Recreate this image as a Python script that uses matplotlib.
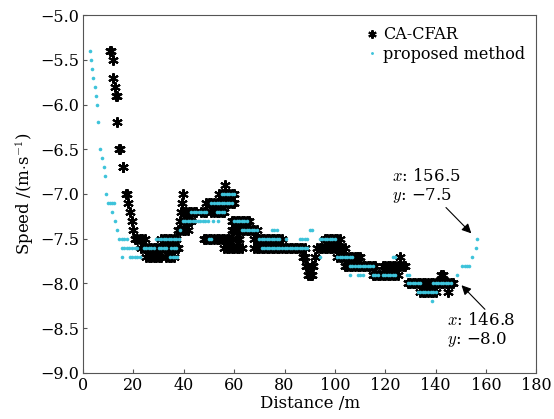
import numpy as np
from matplotlib import pyplot as plt

plt.rcParams['font.family'] = 'DejaVu Serif'
plt.rcParams['mathtext.fontset'] = 'cm'

# CA-CFAR detections, grouped by speed level (distance list per speed)
cfar_dist = [
    10.7, 11.0, 11.8, 12.0, 12.6, 13.1, 13.4, 13.6, 14.2, 14.5, 15.7, 16.0, 17.1, 17.5, 18.0, 18.7, 19.3, 20.0,
    20.5, 21.5, 22.5, 23.5, 24.5,                                               # -7.5
    23, 24, 25, 26, 27, 28, 29, 30, 31, 32, 33, 34, 35, 36, 37, 37.5,           # -7.6
    25, 26, 27, 28, 29, 30, 31, 33, 34, 35, 36,                                 # -7.7
    31, 32, 33, 34, 35, 36, 37,                                                 # -7.5
    37.5, 38.5, 39.5, 40.5, 41.5,                                               # -7.4
    38.5, 40, 41, 42, 43,                                                       # -7.3
    39.0, 40, 41, 42, 43, 44, 45, 47, 48, 49, 51, 52, 53, 54, 55, 56,           # -7.2
    39.3, 49, 50, 51, 52, 53, 54, 55, 56, 57, 58, 59, 60,                       # -7.1
    39.5, 54, 55, 56, 57, 58, 59, 60,                                           # -7.0
    56.3,                                                                       # -6.9
    48, 49, 50, 51, 52, 53, 54, 55, 56, 57, 58, 59, 61, 62,                     # -7.5
    56, 57, 58, 59, 60, 61, 62, 63,                                             # -7.6
    59, 60, 61, 62, 63, 64, 65, 66,                                             # -7.3
    59, 60, 61, 62, 63, 64, 65, 66, 67, 68, 69,                                 # -7.4
    68, 69, 70, 71, 72, 73, 74, 75, 76, 77, 78, 79,                             # -7.5
    68, 69, 70, 71, 72, 73, 74, 75, 76, 77, 78, 79, 80, 81, 82, 83, 84, 85, 86, 87, 88,  # -7.6
    87.5, 88, 92,                                                               # -7.7
    88.5, 89, 91, 91.5,                                                         # -7.8
    89.5, 90, 90.5, 91,                                                         # -7.9
    93, 94, 95, 96, 97, 98, 99, 100, 101, 102, 103, 104,                        # -7.6
    96, 97, 98, 99, 100, 101, 102,                                              # -7.5
    101, 102, 103, 104, 105, 106, 107, 108, 108.6, 109, 110,                    # -7.7
    104, 105, 106, 107, 108, 109, 110, 111, 112, 113, 114, 115, 116,            # -7.8
    115, 116, 117, 118, 119, 120, 121, 122, 123, 124, 125,                      # -7.9
    119, 120, 121, 122, 123, 124, 125, 126, 127, 128,                           # -7.8
    125.7,                                                                      # -7.7
    129, 130, 131, 132, 133, 134, 135, 136, 137, 138, 139, 140, 141, 142, 143, 144, 145, 146, 146.8,  # -8.0
    134, 135, 136, 137, 138, 139, 140, 145,                                     # -8.1
    142, 143,                                                                   # -7.9
]
cfar_speed = (
    [-5.4, -5.4, -5.5, -5.7, -5.8, -5.9, -5.9, -6.2, -6.5, -6.5, -6.7, -6.7, -7.0, -7.0, -7.1, -7.2, -7.3, -7.4]
    + [-7.5] * 5 + [-7.6] * 16 + [-7.7] * 11 + [-7.5] * 7 + [-7.4] * 5 + [-7.3] * 5
    + [-7.2] * 16 + [-7.1] * 13 + [-7.0] * 8 + [-6.9] * 1 + [-7.5] * 14 + [-7.6] * 8
    + [-7.3] * 8 + [-7.4] * 11 + [-7.5] * 12 + [-7.6] * 21 + [-7.7] * 3 + [-7.8] * 4
    + [-7.9] * 4 + [-7.6] * 12 + [-7.5] * 7 + [-7.7] * 11 + [-7.8] * 13 + [-7.9] * 11
    + [-7.8] * 10 + [-7.7] * 1 + [-8.0] * 19 + [-8.1] * 8 + [-7.9] * 2
)

# proposed method
prop_dist = [
    2.8, 3.2, 3.6, 4.1, 4.6, 5.0, 5.6, 6.1, 6.7, 7.7, 8.2, 8.7, 9.1,
    9.9, 10.7, 11.5, 12.3,                                                      # -7.1
    11.4, 12.7, 13.4,                                                           # -7.2 -7.3 -7.4
    14.3, 15.3, 16.3, 17.3,                                                     # -7.5
    15.4, 16.4, 17.4, 18.4, 19.4, 20.5, 21.5,                                   # -7.6
    15.4, 18.6, 19.6, 20.6, 21.6, 22.6,                                         # -7.7
    24, 25, 26, 27, 28, 30, 31, 32, 33, 35, 36, 37,                             # -7.6
    29, 30, 31, 32, 33, 34, 35, 36, 37, 38,                                     # -7.5
    34.6, 35.6, 36.6, 37.2,                                                     # -7.7
    38.5,                                                                       # -7.4
    39.5, 40.5, 41.5, 42.5, 43.5, 44.5, 45.5, 46.5, 47.5, 48.5, 49.5, 51.7, 53.7,  # -7.3
    43, 44, 45, 46, 47, 48, 49, 53, 54, 55, 56,                                 # -7.2
    51, 52, 53, 54, 55, 56, 57, 58, 59,                                         # -7.1
    55, 56, 57, 58, 59, 60,                                                     # -7.0
    60, 61, 62, 63, 64, 65,                                                     # -7.3
    63, 64, 65, 66, 67, 68, 69, 75, 76, 77, 90, 91,                             # -7.4
    50, 51, 70, 71, 72, 73, 74, 75, 76, 77, 78, 80.5, 86, 87, 88, 89,
    94, 95, 96, 97, 98, 99, 100,                                                # -7.5
    71, 72, 73, 74, 75, 76, 77, 78, 79, 80, 81, 82, 83, 84, 85, 86, 87, 88, 89,  # -7.6
    94, 101, 102, 103, 104, 105, 106, 107, 123, 124,                            # -7.7
    106, 107, 108, 109, 110, 111, 112, 113, 114, 115,                           # -7.8
    106, 109, 110, 111, 115, 116, 117, 119, 120, 121, 122, 123, 124, 128.5, 129.5,  # -7.9
    129, 130, 131, 132, 133, 134, 139, 140, 141, 142, 143, 144, 145, 146,       # -8.0
    133, 134, 135, 136, 137, 138, 139, 140,                                     # -8.1
    138.4,                                                                      # -8.2
    148.6, 150.6, 151.5, 152.4, 153.3, 154.6, 155.9, 156.5,
]
prop_speed = (
    [-5.4, -5.5, -5.6, -5.7, -5.8, -5.9, -6.0, -6.2, -6.5, -6.6, -6.7, -6.8, -7.0]
    + [-7.1] * 4 + [-7.2, -7.3, -7.4] + [-7.5] * 4 + [-7.6] * 7 + [-7.7] * 6
    + [-7.6] * 12 + [-7.5] * 10 + [-7.7] * 4 + [-7.4] * 1 + [-7.3] * 13 + [-7.2] * 11
    + [-7.1] * 9 + [-7.0] * 6 + [-7.3] * 6 + [-7.4] * 12 + [-7.5] * 23 + [-7.6] * 19
    + [-7.7] * 10 + [-7.8] * 10 + [-7.9] * 15 + [-8.0] * 14 + [-8.1] * 8 + [-8.2] * 1
    + [-7.9, -7.8, -7.8, -7.8, -7.8, -7.7, -7.6, -7.5]
)

x_ticks = np.arange(0, 181, 20)
y_ticks = np.arange(-9.0, -4.99, 0.5)

fig = plt.figure(figsize=(5.54, 4.19), dpi=100)
ax = fig.add_axes([0.150, 0.110, 0.818, 0.854])

ax.plot(cfar_dist, cfar_speed, linestyle='none', marker=(6, 2, 0), markersize=7.5,
        markeredgewidth=1.5, color='black', label='CA-CFAR')
ax.plot(prop_dist, prop_speed, linestyle='none', marker='o', markersize=2.6,
        markeredgewidth=0, color='#3ec3da', label='proposed method')

ax.set_xlim(0, 180)
ax.set_ylim(-9.0, -5.0)
ax.set_xticks(x_ticks)
ax.set_yticks(y_ticks)
ax.set_yticklabels([f"{v:.1f}".replace('-', '\u2212') for v in y_ticks])
ax.tick_params(direction='in', length=3, labelsize=11.5, color='#555555', pad=3)
for s in ax.spines.values():
    s.set_color('#555555')

ax.set_xlabel('Distance /m', fontsize=12, labelpad=1)
ax.set_ylabel('Speed /(m$\\cdot$s$^{-1}$)', fontsize=12, labelpad=3)

ax.annotate('$x$: 156.5\n$y$: \u22127.5', xy=(154.2, -7.44), xytext=(122.6, -6.71),
            fontsize=12, va='top', ha='left', linespacing=1.05,
            arrowprops=dict(arrowstyle='-|>', color='black', lw=0.8, mutation_scale=14,
                            shrinkA=0, shrinkB=0, relpos=(0.75, 0.0)))
ax.annotate('$x$: 146.8\n$y$: \u22128.0', xy=(150.3, -8.02), xytext=(144.4, -8.32),
            fontsize=12, va='top', ha='left', linespacing=1.05,
            arrowprops=dict(arrowstyle='-|>', color='black', lw=0.8, mutation_scale=14,
                            shrinkA=0, shrinkB=0, relpos=(0.6, 1.0)))

ax.legend(loc='upper right', frameon=False, fontsize=11.5, handletextpad=0.2,
          handlelength=1.0, borderaxespad=0.3, labelspacing=0.15, markerscale=0.8)

plt.savefig('out.png', dpi=100)
